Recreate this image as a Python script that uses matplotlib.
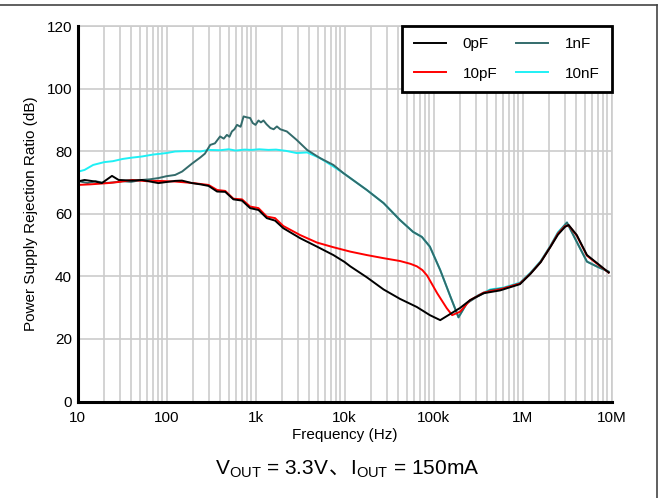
import numpy as np
import matplotlib
matplotlib.use("Agg")
import matplotlib.pyplot as plt
from matplotlib.lines import Line2D
from matplotlib.ticker import FixedLocator, NullFormatter

plt.rcParams['font.family'] = ['Liberation Sans', 'Noto Sans CJK SC', 'DejaVu Sans']

# 0pF
f_0pf = [10, 12, 15.8, 18.8, 24.4, 29, 41, 53, 81, 125, 149, 193, 240, 297, 370, 457, 565,
         705, 870, 1080, 1340, 1660, 2050, 3170, 4900, 7500, 10000, 11600, 17800, 27500,
         42000, 65000, 91000, 119000, 155000, 199000, 258000, 365000, 560000, 937000,
         1230000, 1600000, 2050000, 2500000, 3000000, 3300000, 4070000, 5300000, 6900000,
         9300000]
psrr_0pf = [70.3, 70.8, 70.3, 69.8, 72.1, 70.8, 70.6, 70.8, 69.8, 70.5, 70.6, 69.8, 69.4,
            68.9, 67.1, 67.0, 64.6, 64.2, 61.8, 61.2, 58.6, 57.8, 55.4, 52.2, 49.5, 46.8,
            44.6, 43.2, 39.7, 35.8, 32.8, 30.2, 27.6, 26.0, 28.0, 29.9, 32.4, 34.6, 35.5,
            37.5, 40.8, 44.5, 49.3, 53.3, 55.8, 56.4, 53.2, 46.8, 44.2, 41.2]

# 10pF
f_10pf = [10, 14, 22, 30, 41, 60, 81, 125, 200, 297, 370, 457, 565, 705, 870, 1080, 1340,
          1660, 2050, 3170, 4900, 7500, 11600, 17800, 27500, 42000, 55000, 65000, 75000,
          85000, 110000, 141000, 162000, 199000, 258000, 365000, 560000, 937000, 1230000,
          1600000, 2050000, 2500000, 3000000, 3300000, 4070000, 5300000, 6900000, 9300000]
psrr_10pf = [69.2, 69.4, 69.8, 70.2, 70.8, 70.4, 70.5, 70.3, 69.8, 69.2, 67.6, 67.3, 64.8,
             64.6, 62.3, 61.8, 59.1, 58.6, 56.1, 53.2, 50.8, 49.3, 47.9, 46.8, 45.8, 44.9,
             44.0, 43.2, 42.0, 40.2, 34.6, 29.8, 27.6, 28.7, 32.4, 34.8, 35.8, 37.7, 40.9,
             44.6, 49.4, 53.6, 56.0, 56.3, 53.0, 46.6, 44.0, 41.2]

# 1nF
f_1nf = [10, 13, 16, 20, 25, 32, 40, 53, 65, 81, 100, 125, 150, 193, 240, 270, 310, 350,
         400, 440, 477, 510, 543, 580, 620, 680, 735, 800, 870, 930, 1000, 1080, 1150, 1230,
         1330, 1470, 1600, 1740, 1900, 2250, 2900, 3800, 5300, 7500, 9700, 17800, 27500,
         42000, 59000, 74000, 91000, 119000, 155000, 191000, 237000, 309000, 434000, 612000,
         937000, 1230000, 1600000, 2050000, 2500000, 3160000, 4070000, 5300000, 6900000,
         9300000]
psrr_1nf = [70.5, 69.8, 70.4, 69.8, 70.0, 70.4, 70.2, 70.8, 71.0, 71.4, 72.0, 72.4, 73.5,
            76.0, 78.0, 79.2, 82.0, 82.5, 84.7, 84.0, 85.2, 84.6, 86.3, 87.0, 88.4, 87.8,
            91.1, 90.8, 90.6, 89.0, 88.4, 89.8, 89.2, 89.8, 88.6, 87.4, 87.0, 87.9, 87.0,
            86.3, 83.6, 80.4, 77.8, 75.6, 73.0, 67.6, 63.4, 58.0, 54.2, 52.6, 49.5, 42.0,
            33.5, 26.9, 31.4, 33.5, 35.6, 36.2, 37.8, 41.0, 44.7, 49.5, 53.8, 57.2, 51.0,
            44.7, 43.1, 41.5]

# 10nF
f_10nf = [10, 12, 15, 20, 25, 32, 40, 53, 70, 100, 125, 160, 200, 240, 297, 400, 500, 600,
          750, 900, 1100, 1400, 1700, 2200, 2900, 3800, 5300, 7500, 9700, 17800, 27500,
          42000, 59000, 74000, 91000, 119000, 155000, 191000, 237000, 309000, 434000,
          612000, 937000, 1230000, 1600000, 2050000, 2500000, 3160000, 4070000, 5300000,
          6900000, 9300000]
psrr_10nf = [73.4, 74.0, 75.6, 76.5, 76.8, 77.5, 77.9, 78.3, 78.9, 79.4, 79.9, 80.0, 80.0,
             79.9, 80.4, 80.3, 80.6, 80.2, 80.5, 80.4, 80.6, 80.4, 80.5, 80.1, 79.4, 79.6,
             77.8, 75.1, 73.0, 67.6, 63.4, 58.0, 54.2, 52.6, 49.5, 42.0, 33.5, 26.9, 31.4,
             33.8, 35.8, 36.4, 38.0, 41.2, 44.9, 49.7, 54.1, 57.2, 51.0, 44.7, 43.1, 41.5]

labels = ['0pF', '10pF', '1nF', '10nF']
colors = ['#000000', '#ff0000', '#336b6b', '#1ff0f5']

x_ticks = [10, 100, 1e3, 1e4, 1e5, 1e6, 1e7]
x_ticklabels = ['10', '100', '1k', '10k', '100k', '1M', '10M']
y_ticks = [0, 20, 40, 60, 80, 100, 120]

caption_parts = [r'V$_{\mathregular{OUT}}$ = 3.3V', '、', r'I$_{\mathregular{OUT}}$ = 150mA']

fig = plt.figure(figsize=(6.58, 4.98), dpi=100)
ax = fig.add_axes([77.5 / 658, 1 - 401.5 / 498, 534 / 658, 375.5 / 498])

series = [(f_0pf, psrr_0pf), (f_10pf, psrr_10pf), (f_1nf, psrr_1nf), (f_10nf, psrr_10nf)]
order = [2, 3, 1, 0]
for i in order:
    f, p = series[i]
    ax.plot(f, p, color=colors[i], lw=1.4, zorder=3 + (3 - i) * 0.1)

ax.set_xscale('log')
ax.set_xlim(10, 1e7)
ax.set_ylim(0, 120)
ax.xaxis.set_major_locator(FixedLocator(x_ticks))
ax.set_xticklabels(x_ticklabels)
minors = [m * d for d in x_ticks[:-1] for m in range(2, 10)]
ax.xaxis.set_minor_locator(FixedLocator(minors))
ax.xaxis.set_minor_formatter(NullFormatter())
ax.set_yticks(y_ticks)

ax.grid(True, which='major', color='#cccccc', lw=1.2, zorder=0)
ax.grid(True, which='minor', axis='x', color='#cccccc', lw=1.2, zorder=0)
ax.set_axisbelow(True)
ax.tick_params(which='both', length=0, labelsize=11, colors='#000000')
ax.tick_params(axis='x', pad=7)
ax.tick_params(axis='y', pad=4)

for s in ['top', 'right']:
    ax.spines[s].set_color('#cccccc')
    ax.spines[s].set_linewidth(1.2)
for s in ['left', 'bottom']:
    ax.spines[s].set_color('#000000')
    ax.spines[s].set_linewidth(2.2)
    ax.spines[s].set_zorder(5)

ax.set_xlabel('Frequency (Hz)', fontsize=11, labelpad=2)
ax.set_ylabel('Power Supply Rejection Ratio (dB)', fontsize=11, labelpad=6)

handles = [Line2D([], [], color=colors[i], lw=1.4) for i in [0, 1, 2, 3]]
leg = ax.legend(handles, labels, ncol=2, loc='upper right', bbox_to_anchor=(1.0, 1.0),
                borderaxespad=0.0, fontsize=11, frameon=True, fancybox=False,
                handlelength=2.1, handletextpad=1.1, columnspacing=1.25, labelspacing=1.0,
                borderpad=0.75)
leg.get_frame().set_edgecolor('#000000')
leg.get_frame().set_linewidth(2.0)
leg.get_frame().set_alpha(1)
leg.set_zorder(10)

# caption: pieces laid out side by side so the CJK comma gets a CJK font
renderer = fig.canvas.get_renderer()
texts = []
for k, s in enumerate(caption_parts):
    fam = ['Noto Sans CJK SC'] if k == 1 else ['Liberation Sans']
    t = fig.text(0, 1 - 474 / 498, s, ha='left', va='baseline', fontsize=15, family=fam)
    texts.append(t)
widths = [t.get_window_extent(renderer).width for t in texts]
x = 347 - sum(widths) / 2
for t, w in zip(texts, widths):
    t.set_x(x / 658)
    x += w

# frame lines at the top and right of the figure
fig.add_artist(Line2D([0, 657 / 658], [1 - 5 / 498, 1 - 5 / 498], color='#444444', lw=1.2,
                      transform=fig.transFigure))
fig.add_artist(Line2D([656.5 / 658, 656.5 / 658], [0, 1 - 5 / 498], color='#444444', lw=1.2,
                      transform=fig.transFigure))

fig.savefig('out.png', dpi=100)
